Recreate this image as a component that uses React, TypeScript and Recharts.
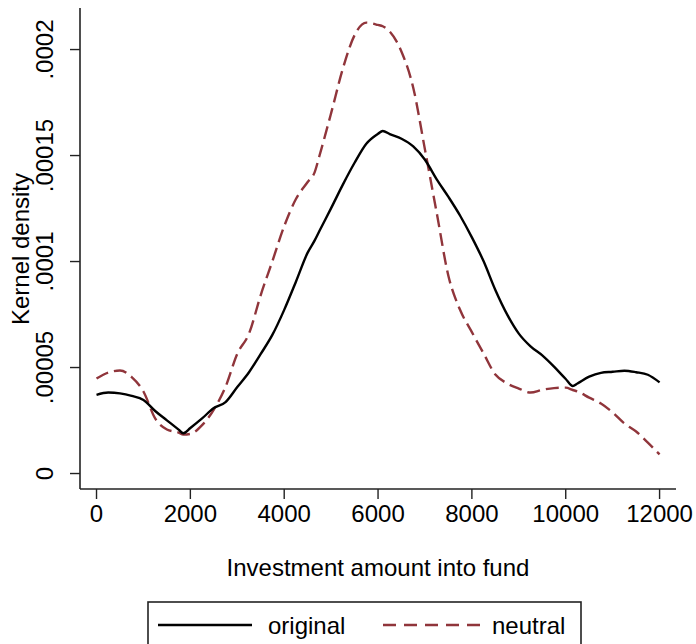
import { LineChart, Line, XAxis, YAxis } from 'recharts'

// investment amounts (x grid) and kernel density estimates
const AMOUNTS = [
  0, 250, 500, 750, 1000, 1250, 1500, 1750, 1850, 2000, 2250, 2500, 2750, 3000, 3250, 3500,
  3750, 4000, 4250, 4500, 4650, 4750, 5000, 5250, 5500, 5750, 6000, 6100, 6250, 6500, 6750,
  7000, 7250, 7500, 7750, 8000, 8250, 8500, 8750, 9000, 9250, 9500, 9750, 10000, 10150,
  10250, 10500, 10750, 11000, 11250, 11500, 11750, 12000,
]

const ORIGINAL = [
  3.71e-5, 3.82e-5, 3.78e-5, 3.66e-5, 3.47e-5, 2.95e-5, 2.51e-5, 2.07e-5, 1.9e-5, 2.15e-5,
  2.6e-5, 3.09e-5, 3.37e-5, 4.08e-5, 4.78e-5, 5.64e-5, 6.55e-5, 7.72e-5, 9.05e-5, 10.42e-5,
  11.0e-5, 11.44e-5, 12.52e-5, 13.63e-5, 14.66e-5, 15.56e-5, 16.03e-5, 16.16e-5, 16.01e-5,
  15.79e-5, 15.43e-5, 14.8e-5, 13.88e-5, 13.05e-5, 12.16e-5, 11.14e-5, 10.01e-5, 8.66e-5,
  7.51e-5, 6.6e-5, 6.0e-5, 5.57e-5, 5.04e-5, 4.46e-5, 4.13e-5, 4.25e-5, 4.57e-5, 4.75e-5,
  4.8e-5, 4.85e-5, 4.78e-5, 4.66e-5, 4.3e-5,
]

const NEUTRAL = [
  4.48e-5, 4.76e-5, 4.86e-5, 4.55e-5, 3.87e-5, 2.6e-5, 2.08e-5, 1.93e-5, 1.84e-5, 1.87e-5,
  2.28e-5, 3.02e-5, 4.09e-5, 5.65e-5, 6.6e-5, 8.42e-5, 10.03e-5, 11.67e-5, 12.95e-5, 13.75e-5,
  14.22e-5, 14.98e-5, 17.0e-5, 19.1e-5, 20.68e-5, 21.27e-5, 21.16e-5, 21.1e-5, 20.85e-5,
  19.9e-5, 18.2e-5, 15.28e-5, 12.3e-5, 9.32e-5, 7.71e-5, 6.67e-5, 5.66e-5, 4.67e-5, 4.25e-5,
  4.01e-5, 3.82e-5, 3.95e-5, 4.03e-5, 4.05e-5, 3.94e-5, 3.87e-5, 3.58e-5, 3.3e-5, 2.88e-5,
  2.36e-5, 1.98e-5, 1.46e-5, 0.9e-5,
]

const X_TICKS = [0, 2000, 4000, 6000, 8000, 10000, 12000]
const Y_TICKS = [0, 0.00005, 0.0001, 0.00015, 0.0002]
const Y_TICK_LABELS = ['0', '.00005', '.0001', '.00015', '.0002']

const X_DOMAIN = [-352, 12350]
const Y_DOMAIN = [-0.0000073, 0.0002196]

const RED = '#90353b'
const FONT = '"Liberation Sans", Arial, Helvetica, sans-serif'

const data = AMOUNTS.map((x, i) => ({ x, original: ORIGINAL[i], neutral: NEUTRAL[i] }))

function XTick({ x, y, payload }: any) {
  return (
    <text x={x} y={y} dy={23} textAnchor="middle" fontSize={24} fontFamily={FONT} fill="#000">
      {payload.value}
    </text>
  )
}

function YTick({ x, y, payload }: any) {
  const bx = x - 17
  const label = Y_TICK_LABELS[Y_TICKS.indexOf(payload.value)]
  return (
    <text
      x={bx}
      y={y}
      transform={`rotate(-90, ${bx}, ${y})`}
      textAnchor="middle"
      fontSize={24}
      fontFamily={FONT}
      fill="#000"
    >
      {label}
    </text>
  )
}

export default function App() {
  return (
    <div style={{ position: 'absolute', left: 0, top: 0, width: 696, height: 644, overflow: 'hidden', background: '#fff' }}>
      <LineChart width={696} height={644} data={data} margin={{ top: 8, right: 20, bottom: 0, left: 0 }}>
        <XAxis
          dataKey="x"
          type="number"
          domain={X_DOMAIN}
          ticks={X_TICKS}
          interval={0}
          allowDataOverflow
          height={155}
          tickSize={10}
          tickMargin={0}
          tick={<XTick />}
          axisLine={{ stroke: '#222', strokeWidth: 1.6 }}
          tickLine={{ stroke: '#222', strokeWidth: 1.4 }}
        />
        <XAxis
          xAxisId="top"
          orientation="top"
          dataKey="x"
          type="number"
          domain={X_DOMAIN}
          allowDataOverflow
          height={0}
          tick={false}
          tickLine={false}
          axisLine={{ stroke: '#333', strokeWidth: 1.6 }}
        />
        <YAxis
          type="number"
          domain={Y_DOMAIN}
          ticks={Y_TICKS}
          interval={0}
          allowDataOverflow
          width={80}
          tickSize={10}
          tickMargin={0}
          tick={<YTick />}
          axisLine={{ stroke: '#222', strokeWidth: 1.6 }}
          tickLine={{ stroke: '#222', strokeWidth: 1.4 }}
        />
        <YAxis
          yAxisId="right"
          orientation="right"
          type="number"
          domain={Y_DOMAIN}
          allowDataOverflow
          width={0}
          tick={false}
          tickLine={false}
          axisLine={{ stroke: '#222', strokeWidth: 1.6 }}
        />
        <Line
          dataKey="neutral"
          type="monotone"
          stroke={RED}
          strokeWidth={2.4}
          strokeDasharray="13 6"
          dot={false}
          isAnimationActive={false}
        />
        <Line
          dataKey="original"
          type="monotone"
          stroke="#000"
          strokeWidth={2.4}
          dot={false}
          isAnimationActive={false}
        />
      </LineChart>

      <svg
        width={696}
        height={644}
        style={{ position: 'absolute', left: 0, top: 0, pointerEvents: 'none' }}
        fontFamily={FONT}
      >
        <text x={29} y={249} transform="rotate(-90, 29, 249)" textAnchor="middle" fontSize={24} fill="#000">
          Kernel density
        </text>
        <text x={378} y={576} textAnchor="middle" fontSize={24} fill="#000">
          Investment amount into fund
        </text>

        {/* legend */}
        <rect x={148} y={602} width={433} height={60} fill="#fff" stroke="#222" strokeWidth={1.6} />
        <line x1={158} y1={625} x2={252} y2={625} stroke="#000" strokeWidth={2.4} />
        <text x={268} y={634} fontSize={24} fill="#000">original</text>
        <line x1={383} y1={625} x2={480} y2={625} stroke={RED} strokeWidth={2.4} strokeDasharray="13 8" />
        <text x={492} y={634} fontSize={24} fill="#000">neutral</text>
      </svg>
    </div>
  )
}
